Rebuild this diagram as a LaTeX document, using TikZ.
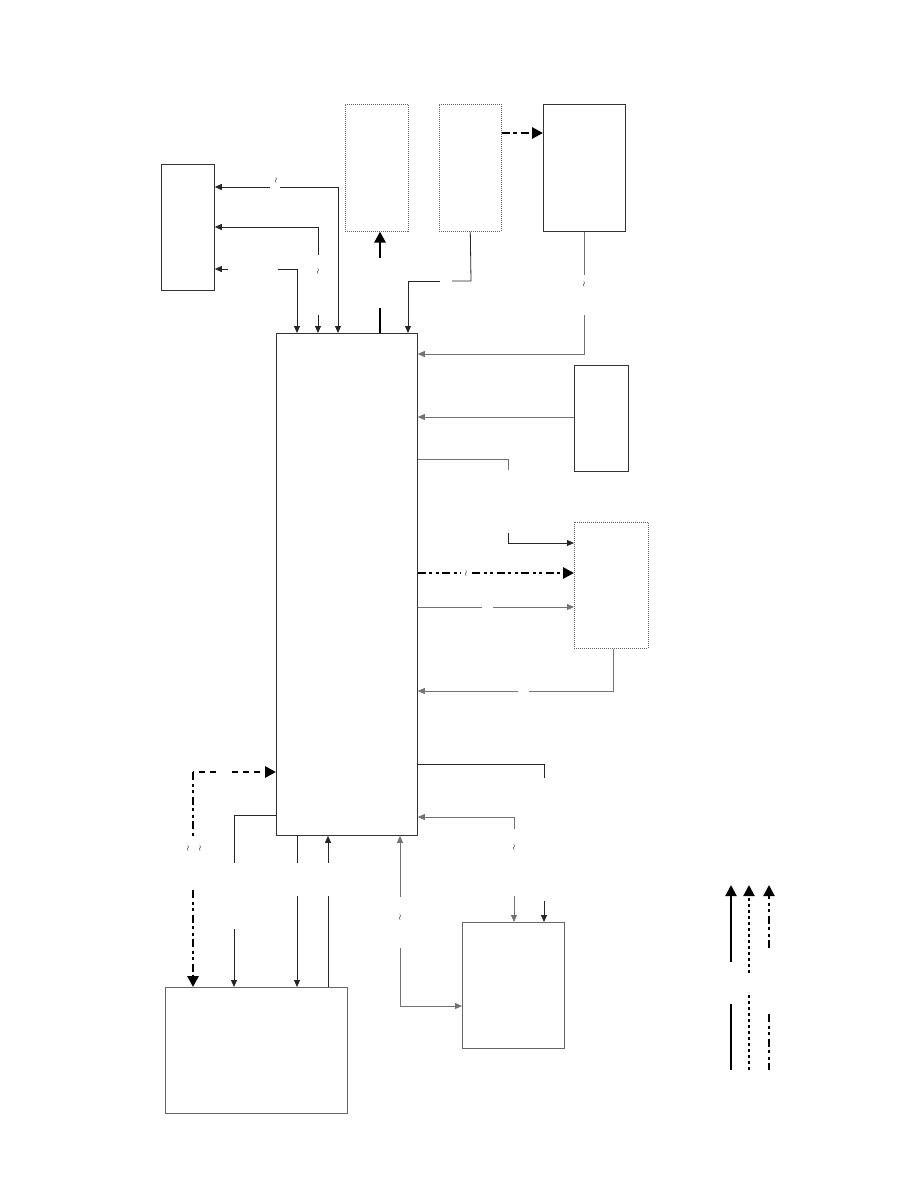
\documentclass[tikz,border=0pt]{standalone}
\usepackage{tikz}
\usetikzlibrary{arrows.meta,positioning}

\begin{document}
\begin{tikzpicture}[x=1pt,y=-1pt,
    box/.style={draw=black!80,line width=0.8pt,inner sep=0pt,anchor=north west},
    dotbox/.style={draw=black!60,line width=0.6pt,dash pattern=on 1pt off 1pt,inner sep=0pt,anchor=north west},
    wire/.style={draw=black!85,line width=0.8pt},
    gwire/.style={draw=black!55,line width=0.8pt},
    heavy/.style={line width=2.8pt},
    longdash/.style={dash pattern=on 6pt off 5pt},
    shortdash/.style={dash pattern=on 8pt off 3.5pt on 4pt off 4pt},
    dashdot/.style={dash pattern=on 8pt off 3.5pt on 3pt off 3.5pt on 3pt off 3.5pt},
    tip/.style={-{Triangle[length=7pt,width=6pt]}},
    bigtip/.style={-{Triangle[length=11pt,width=11pt]}},
    brk/.style={inner sep=0pt,font=\footnotesize},
    >=Stealth]
    \useasboundingbox (0,0) rectangle (918,1188);

    % blocks
    \node[box,minimum width=53pt,minimum height=126pt] (lbox) at (161,164) {};
    \node[dotbox,minimum width=63pt,minimum height=127pt] (pwr) at (345,104) {};
    \node[dotbox,minimum width=62pt,minimum height=127pt] (opt) at (439,104) {};
    \node[box,minimum width=82pt,minimum height=127pt] (rtop) at (543,104) {};
    \node[box,minimum width=141pt,minimum height=502pt] (main) at (276,333) {};
    \node[box,minimum width=54pt,minimum height=106pt] (rmid) at (574,365) {};
    \node[dotbox,minimum width=74pt,minimum height=126pt] (rdot) at (574,522) {};
    \node[box,draw=black!60,minimum width=182pt,minimum height=126pt] (blbox) at (165,987) {};
    \node[box,draw=black!60,minimum width=102pt,minimum height=126pt] (brbox) at (462,922) {};

    % top side
    \draw[wire,tip] (280,187) -- (338,187) -- (338,0 |- main.north);
    \draw[wire,tip] (270,187) -- (lbox.east |- 0,187);
    \node[brk] (br1) at (276,180) {$\wr$};
    \draw[wire,tip] (318,255) -- (318,227) -- (lbox.east |- 0,227);
    \draw[wire,tip] (318,315) -- (318,0 |- main.north);
    \node[brk] (br2) at (318,271) {$\wr$};
    \draw[wire,tip] (228,269) -- (lbox.east |- 0,269);
    \draw[wire,tip] (278,269) -- (297,269) -- (297,0 |- main.north);
    \draw[heavy] (380,308) -- (380,0 |- main.north);
    \draw[heavy,bigtip] (380,258) -- (380,0 |- pwr.south);
    \draw[wire] (opt.south) -- (471,281) -- (452,281);
    \draw[wire,tip] (440,281) -- (408,281) -- (408,0 |- main.north);
    \draw[heavy,shortdash,bigtip] (opt.east |- 0,133) -- (rtop.west |- 0,133);

    % right side
    \draw[gwire] (584,0 |- rtop.south) -- (584,275);
    \draw[gwire,tip] (584,315) -- (584,354) -- (main.east |- 0,354);
    \node[brk] (br3) at (584,284) {$\wr$};
    \draw[gwire,tip] (rmid.west |- 0,417) -- (main.east |- 0,417);
    \draw[gwire] (main.east |- 0,459) -- (508,459) -- (508,470);
    \draw[wire,tip] (508,533) -- (508,543) -- (rdot.west |- 0,543);
    \draw[heavy,dashdot] (main.east |- 0,573) -- (461,573);
    \draw[heavy,dashdot,bigtip] (472,573) -- (rdot.west |- 0,573);
    \node[brk] (br4) at (466,573) {$\wr$};
    \draw[gwire] (main.east |- 0,607) -- (482,607);
    \draw[gwire,tip] (493,607) -- (rdot.west |- 0,607);
    \draw[gwire] (613,0 |- rdot.south) -- (613,691) -- (529,691);
    \draw[gwire,tip] (518,691) -- (main.east |- 0,691);
    \draw[wire] (main.east |- 0,764) -- (544,764) -- (544,778);
    \draw[gwire,tip] (514,829) -- (514,817) -- (main.east |- 0,817);
    \draw[gwire,tip] (514,896) -- (514,0 |- brbox.north);
    \node[brk] (br5) at (514,847) {$\wr$};
    \draw[wire,tip] (544,901) -- (544,0 |- brbox.north);

    % bottom side
    \draw[gwire,tip] (400,897) -- (400,0 |- main.south);
    \draw[gwire,tip] (400,948) -- (400,1006) -- (brbox.west |- 0,1006);
    \node[brk] (br6) at (400,917) {$\wr$};
    \draw[heavy,longdash] (216,772) -- (193,772);
    \draw[heavy,longdash,bigtip] (232,772) -- (main.west |- 0,772);
    \draw[heavy,dashdot] (193,772) -- (193,837);
    \draw[heavy,dashdot,bigtip] (193,890) -- (193,0 |- blbox.north);
    \node[brk] (br7) at (188,848) {$\wr$};
    \node[brk] (br8) at (200,848) {$\wr$};
    \draw[wire] (main.west |- 0,815) -- (234,815) -- (234,863);
    \draw[wire,tip] (234,929) -- (234,0 |- blbox.north);
    \draw[wire] (297,0 |- main.south) -- (297,863);
    \draw[wire,tip] (297,896) -- (297,0 |- blbox.north);
    \draw[wire,tip] (328,863) -- (328,0 |- main.south);
    \draw[wire] (328,0 |- blbox.north) -- (328,896);

    % legend
    \draw[line width=2pt,bigtip] (731,962) -- (731,885);
    \draw[line width=2pt] (731,1004) -- (731,1070);
    \draw[line width=2pt,dash pattern=on 3pt off 3pt,bigtip] (749,973) -- (749,885);
    \draw[line width=2pt,dash pattern=on 3pt off 3pt] (749,1070) -- (749,992);
    \draw[line width=2pt,dashdot,bigtip] (769,948) -- (769,885);
    \draw[line width=2pt,dashdot] (769,1014) -- (769,1070);
\end{tikzpicture}
\end{document}
